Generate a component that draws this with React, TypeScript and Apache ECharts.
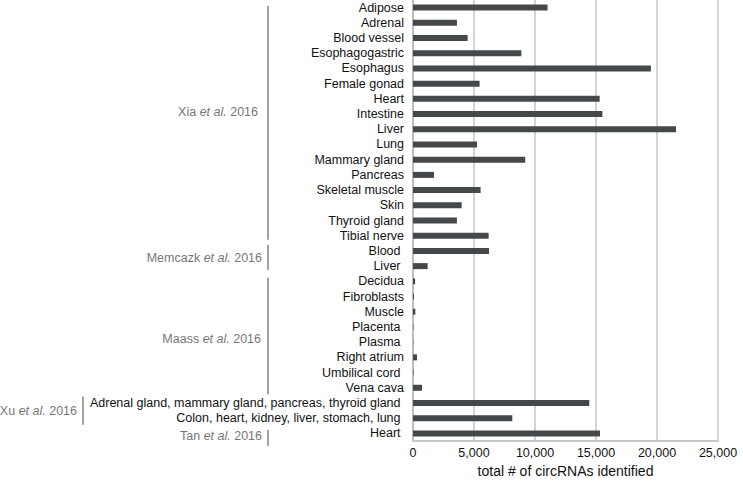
import React, { useEffect, useRef } from 'react';
import * as echarts from 'echarts';

const categories = [
  'Adipose', 'Adrenal', 'Blood vessel', 'Esophagogastric', 'Esophagus', 'Female gonad',
  'Heart', 'Intestine', 'Liver', 'Lung', 'Mammary gland', 'Pancreas', 'Skeletal muscle',
  'Skin', 'Thyroid gland', 'Tibial nerve',
  'Blood ', 'Liver ',
  'Decidua', 'Fibroblasts', 'Muscle', 'Placenta ', 'Plasma ', 'Right atrium', 'Umbilical cord ', 'Vena cava',
  'Adrenal gland, mammary gland, pancreas, thyroid gland ', 'Colon, heart, kidney, liver, stomach, lung ',
  'Heart ',
];

const circRNAs = [
  11030, 3600, 4480, 8880, 19500, 5460,
  15300, 15520, 21560, 5250, 9200, 1720, 5540,
  3990, 3600, 6200,
  6230, 1200,
  170, 80, 190, 30, 20, 330, 40, 740,
  14450, 8140,
  15330,
];

const xTicks = [0, 5000, 10000, 15000, 20000, 25000];

const studyAuthors = ['Xia', 'Memcazk', 'Maass', 'Xu', 'Tan'];
const studyYear = ['2016', '2016', '2016', '2016', '2016'];
const studyFirst = [0, 16, 18, 26, 28];
const studyLast = [15, 17, 25, 27, 28];

const FONT = '"Liberation Sans", Arial, Helvetica, sans-serif';

export default function App() {
  const ref = useRef<HTMLDivElement>(null);
  useEffect(() => {
    if (!ref.current) return;
    const chart = echarts.init(ref.current, undefined, { renderer: 'svg' });
    const keys = categories.map((c, i) => `${i}|${c}`);
    chart.setOption({
      animation: false,
      textStyle: { fontFamily: FONT },
      grid: { left: 413, right: 25, top: 0, height: 441, containLabel: false },
      xAxis: {
        type: 'value',
        min: xTicks[0],
        max: xTicks[xTicks.length - 1],
        interval: xTicks[1] - xTicks[0],
        name: 'total # of circRNAs identified',
        nameLocation: 'middle',
        nameGap: 21,
        nameTextStyle: { fontSize: 14, color: '#111', fontFamily: FONT },
        axisLine: { show: true, lineStyle: { color: '#c8c8c8', width: 2 } },
        axisTick: { show: false },
        axisLabel: {
          fontSize: 12.5, color: '#111', margin: 5, fontFamily: FONT,
          formatter: (v: number) => v.toLocaleString('en-US'),
        },
        splitLine: { show: true, lineStyle: { color: '#d3d3d3', width: 2 } },
      },
      yAxis: {
        type: 'category',
        inverse: true,
        data: keys,
        axisLine: { show: true, lineStyle: { color: '#bdbdbd', width: 2 } },
        axisTick: { show: false },
        axisLabel: {
          interval: 0,
          fontSize: 12.5, color: '#111', margin: 9, fontFamily: FONT,
          formatter: (v: string) => v.slice(v.indexOf('|') + 1),
        },
      },
      series: [
        {
          type: 'bar',
          data: circRNAs,
          barWidth: 6,
          itemStyle: { color: '#45484b' },
        },
      ],
    });

    const y = (i: number) => chart.convertToPixel({ yAxisIndex: 0 }, keys[i]) as number;
    const band = y(1) - y(0);
    const lineX = [268, 268, 268, 83, 268];
    const labelGap = [10, 6, 7, 6, 6];
    const topOff = [-1.5, -6, -3.5, -6.5, -3.5];
    const botOff = [4, 4, 6.5, 6.5, 12.5];
    const labelIdx = [6.85, 16.45, 21.8, 26.5, 28.2];
    const graphic: any[] = [];
    studyAuthors.forEach((a, g) => {
      const y0 = y(studyFirst[g]) + topOff[g];
      const y1 = y(studyLast[g]) + botOff[g];
      graphic.push({
        type: 'line',
        shape: { x1: lineX[g], y1: y0, x2: lineX[g], y2: y1 },
        style: { stroke: '#666', lineWidth: 1.2 },
      });
      graphic.push({
        type: 'text',
        x: lineX[g] - labelGap[g],
        y: y(0) + labelIdx[g] * band,
        style: {
          text: `${a} {i|et al.} ${studyYear[g]}`,
          fill: '#777',
          font: `12.5px ${FONT}`,
          fontSize: 12.5,
          fontFamily: FONT,
          align: 'right',
          verticalAlign: 'middle',
          rich: { i: { fontStyle: 'italic', fill: '#777', fontSize: 12.5, fontFamily: FONT } },
        },
      });
    });
    chart.setOption({ graphic });

    return () => chart.dispose();
  }, []);
  return (
    <div
      ref={ref}
      style={{ position: 'fixed', left: 0, top: 0, width: 743, height: 483, background: '#fff' }}
    />
  );
}
